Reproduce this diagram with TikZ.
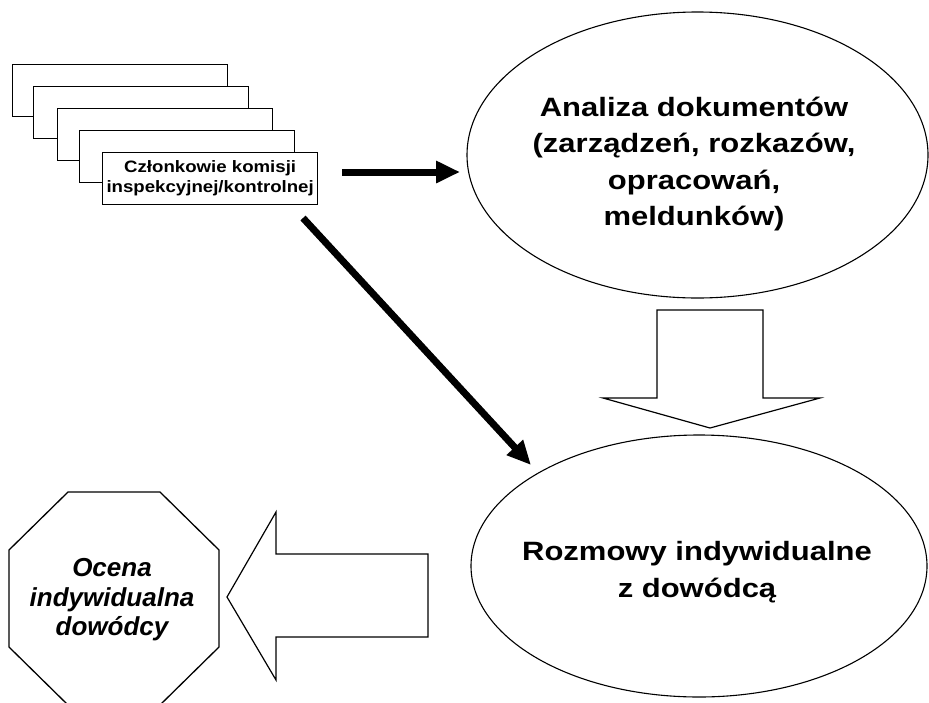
\documentclass[tikz,border=0pt]{standalone}
\usepackage{fontspec}
\setmainfont{Liberation Sans}
\newfontfamily\wideSans[FakeStretch=1.17]{Liberation Sans}
\newfontfamily\cardSans[FakeStretch=1.13]{Liberation Sans}
\usetikzlibrary{shapes.geometric,arrows.meta}

\tikzset{
  card/.style={draw, fill=white, line width=1.3pt, minimum width=215pt,
    minimum height=52pt, inner sep=0pt, anchor=north west},
  cardtext/.style={font=\cardSans\bfseries\fontsize{16.5}{20}\selectfont, align=center},
  oval/.style={draw, ellipse, line width=1.1pt, inner sep=0pt},
  ovaltext/.style={font=\wideSans\bfseries\fontsize{26.5}{36.5}\selectfont, align=center},
  octtext/.style={font=\bfseries\itshape\fontsize{26}{29.5}\selectfont, align=center},
  blockarrow/.style={draw, fill=white, line width=1.2pt, line join=miter},
  thickarrow/.style={line width=7pt,
    -{Triangle[length=24pt, width=21pt]}},
}

\begin{document}
\begin{tikzpicture}[x=1pt, y=-1pt]
  \clip (0,0) rectangle (929,702);

  % stack of cards
  \node[card] (card1) at (12,64) {};
  \node[card] (card2) at (33,86) {};
  \node[card] (card3) at (57,108) {};
  \node[card] (card4) at (79,130) {};
  \node[card, cardtext] (card5) at (102,152)
    {Członkowie komisji\\inspekcyjnej/kontrolnej};

  % document analysis
  \node[oval, minimum width=461pt, minimum height=286pt] (ana) at (697.5,155) {};
  \node[ovaltext] (anatext) at (694,164)
    {Analiza dokumentów\\(zarządzeń, rozkazów,\\opracowań,\\meldunków)};

  % interviews
  \node[oval, minimum width=456pt, minimum height=262pt] (roz) at (699,566) {};
  \node[ovaltext] (roztext) at (697,572)
    {Rozmowy indywidualne\\z dowódcą};

  % assessment octagon
  \draw[line width=1.3pt, fill=white]
    (68,492) -- (160,492) -- (219,550) -- (219,647) -- (160,705)
    -- (68,705) -- (9,647) -- (9,550) -- cycle;
  \node[octtext] (oce) at (112,600) {Ocena\\indywidualna\\dowódcy};

  % arrows from the commission
  \coordinate (h1) at (342,172);
  \coordinate (h2) at (460,172);
  \draw[thickarrow] (h1) -- (h2);
  \coordinate (d1) at (303,218);
  \coordinate (d2) at (531,465);
  \draw[thickarrow] (d1) -- (d2);

  % block arrow down
  \draw[blockarrow] (657,310) -- (763,310) -- (763,398) -- (820,398)
    -- (710,428) -- (603,398) -- (657,398) -- cycle;

  % block arrow left
  \draw[blockarrow] (428,554) -- (428,637) -- (276,637) -- (276,680)
    -- (227,597) -- (276,512) -- (276,554) -- cycle;
\end{tikzpicture}
\end{document}
